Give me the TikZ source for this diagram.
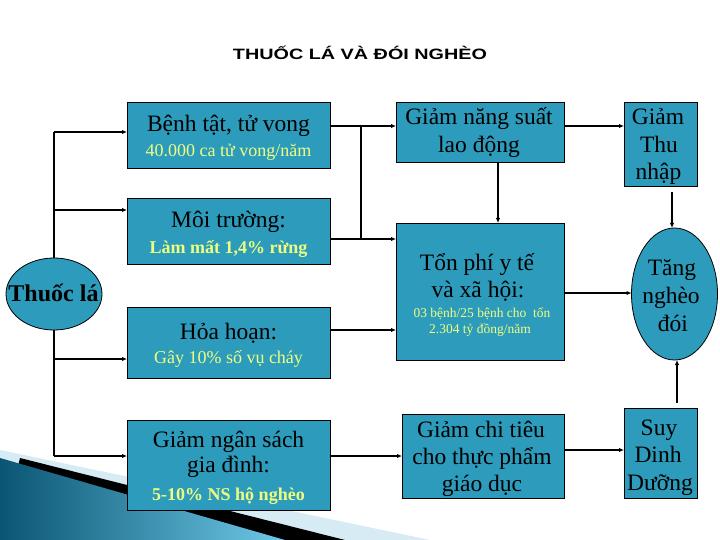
\documentclass[tikz,border=0pt]{standalone}
\usepackage{fontspec}
\setmainfont{Liberation Serif}
\newfontfamily\titlefont{Liberation Sans}
\usetikzlibrary{arrows.meta,shapes.geometric}
\definecolor{boxfill}{RGB}{45,155,187}
\definecolor{subyellow}{RGB}{238,255,128}
\definecolor{swdark}{RGB}{10,85,115}
\definecolor{swlight}{RGB}{110,200,232}
\definecolor{swpale}{RGB}{215,235,245}
\begin{document}
\begin{tikzpicture}[x=1pt,y=-1pt,
  box/.style={draw=black, line width=0.8pt, fill=boxfill, inner sep=0pt, outer sep=0pt, rectangle},
  oval/.style={draw=black, line width=0.8pt, fill=boxfill, inner sep=0pt, outer sep=0pt, ellipse},
  main/.style={anchor=base, inner sep=0pt, font=\fontsize{23.5}{28}\selectfont},
  sub/.style={anchor=base, inner sep=0pt, text=subyellow, font=\fontsize{18}{21}\selectfont},
  small/.style={anchor=base, inner sep=0pt, text=subyellow, font=\fontsize{13.5}{16}\selectfont},
  conn/.style={line width=1.6pt, black},
  arr/.style={conn, -{Latex[length=5pt,width=4.5pt]}}]
\useasboundingbox (0,0) rectangle (720,540);
\fill[white] (0,0) rectangle (720,540);
% decorative swoosh
\fill[swpale] (0,450) -- (430,540) -- (0,540) -- cycle;
\fill[black] (20,458) -- (345,540) -- (0,540) -- cycle;
\shade[left color=swdark, right color=swlight] (0,458) -- (285,540) -- (0,540) -- cycle;
% title
\node[anchor=base, inner sep=0pt] (title) at (360,60) {\titlefont\bfseries\fontsize{15}{17}\selectfont\scalebox{1.32}[1]{THUỐC LÁ VÀ ĐÓI NGHÈO}};
% left column
\node[oval, minimum width=96, minimum height=72] (tl) at (54,294) {};
\node[anchor=base, inner sep=0pt, font=\fontsize{24}{28}\selectfont\bfseries] (tlt) at (53.5,301.5) {Thuốc lá};
\node[box, minimum width=203, minimum height=66] (b1) at (228.5,135) {};
\node[box, minimum width=203, minimum height=66] (b2) at (228.5,231) {};
\node[box, minimum width=203, minimum height=71] (b3) at (228.5,342.5) {};
\node[box, minimum width=203, minimum height=90] (b4) at (228.5,465) {};
\node[main] (b1a) at (228.5,132) {Bệnh tật, tử vong};
\node[sub] (b1b) at (228.5,157) {40.000 ca tử vong/năm};
\node[main] (b2a) at (228.5,228) {Môi trường:};
\node[sub, font=\fontsize{18}{21}\selectfont\bfseries] (b2b) at (228.5,253) {Làm mất 1,4\% rừng};
\node[main] (b3a) at (228.5,339) {Hỏa hoạn:};
\node[sub] (b3b) at (228.5,363) {Gây 10\% số vụ cháy};
\node[main] (b4a) at (228.5,447) {Giảm ngân sách};
\node[main] (b4b) at (228.5,472) {gia đình:};
\node[sub, font=\fontsize{18}{21}\selectfont\bfseries] (b4c) at (228.5,500) {5-10\% NS hộ nghèo};
% middle column
\node[box, minimum width=168, minimum height=60] (gns) at (480,132) {};
\node[box, minimum width=168, minimum height=137] (tp) at (480,291.5) {};
\node[box, minimum width=162, minimum height=84] (gct) at (483,456) {};
\node[main] (gnsa) at (479,125) {Giảm năng suất};
\node[main] (gnsb) at (479,153) {lao động};
\node[main] (tpa) at (477,270) {Tổn phí y tế};
\node[main] (tpb) at (478,297) {và xã hội:};
\node[small] (tpc) at (482,317) {03 bệnh/25 bệnh cho\ \ tốn};
\node[small] (tpd) at (480,333) {2.304 tỷ đồng/năm};
\node[main] (gcta) at (481,437) {Giảm chi tiêu};
\node[main] (gctb) at (482,464) {cho thực phẩm};
\node[main] (gctc) at (482,491) {giáo dục};
% right column
\node[box, minimum width=73, minimum height=84] (gtn) at (660.5,144) {};
\node[oval, minimum width=86, minimum height=132] (tn) at (674.5,294) {};
\node[box, minimum width=73, minimum height=90] (sdd) at (660.5,453) {};
\node[main] (gtna) at (658,125) {Giảm};
\node[main] (gtnb) at (659,153) {Thu};
\node[main] (gtnc) at (658.5,180) {nhập};
\node[main] (tna) at (672,275) {Tăng};
\node[main] (tnb) at (671,303) {nghèo};
\node[main] (tnc) at (673,331) {đói};
\node[main] (sdda) at (659,435) {Suy};
\node[main] (sddb) at (658,462) {Dinh};
\node[main] (sddc) at (660,490) {Dưỡng};
% connectors, left tree
\coordinate (L1) at (54,132);
\coordinate (L2) at (54,210);
\coordinate (L3) at (54,359);
\coordinate (L4) at (54,456);
\draw[conn] (L1) -- (tl.north);
\draw[conn] (tl.south) -- (L4);
\draw[arr] (L1) -- (b1.west |- L1);
\draw[arr] (L2) -- (b2.west |- L2);
\draw[arr] (L3) -- (b3.west |- L3);
\draw[arr] (L4) -- (b4.west |- L4);
% connectors, to middle
\coordinate (R1) at (361,126);
\coordinate (R2) at (361,239);
\coordinate (H3) at (361,330);
\coordinate (H4) at (361,456);
\draw[conn] (b1.east |- R1) -- (R1) -- (R2) -- (b2.east |- R2);
\draw[arr] (R1) -- (gns.west |- R1);
\draw[arr] (R2) -- (tp.west |- R2);
\draw[arr] (b3.east |- H3) -- (tp.west |- H3);
\draw[arr] (b4.east |- H4) -- (gct.west |- H4);
\draw[arr] (gns.south -| 498,0) -- (tp.north -| 498,0);
% connectors, to right
\coordinate (E1) at (600,126);
\coordinate (E2) at (600,293);
\coordinate (E3) at (600,450);
\coordinate (V1) at (672,192);
\coordinate (V2) at (677,403);
\draw[arr] (gns.east |- E1) -- (gtn.west |- E1);
\draw[arr] (tp.east |- E2) -- (tn.west |- E2);
\draw[arr] (gct.east |- E3) -- (sdd.west |- E3);
\draw[arr] (V1) -- (V1 |- tn.north);
\draw[arr] (V2) -- (V2 |- tn.south);
\end{tikzpicture}
\end{document}
